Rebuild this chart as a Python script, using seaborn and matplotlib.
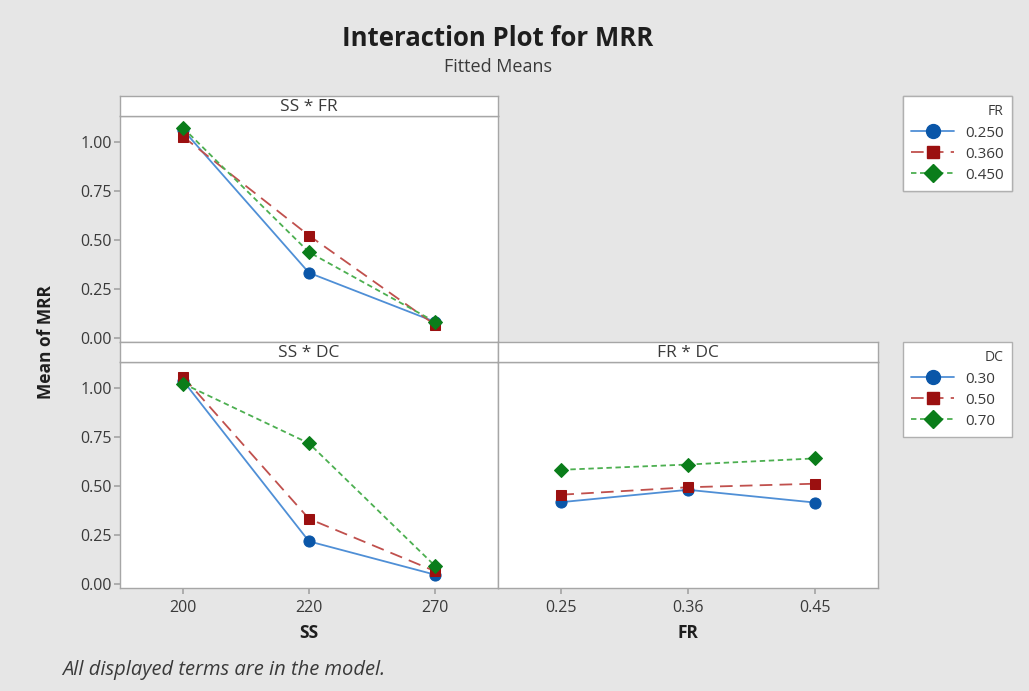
import matplotlib
matplotlib.use("Agg")
import matplotlib.pyplot as plt
import seaborn as sns
from matplotlib.lines import Line2D

# factor levels
ss_levels = ["200", "220", "270"]
fr_levels = ["0.25", "0.36", "0.45"]
fr_legend = ["0.250", "0.360", "0.450"]
dc_legend = ["0.30", "0.50", "0.70"]

# fitted means
ss_fr_250 = [1.065, 0.335, 0.085]
ss_fr_360 = [1.030, 0.525, 0.070]
ss_fr_450 = [1.075, 0.440, 0.085]

ss_dc_30 = [1.040, 0.220, 0.050]
ss_dc_50 = [1.060, 0.335, 0.068]
ss_dc_70 = [1.025, 0.720, 0.095]

fr_dc_30 = [0.420, 0.483, 0.418]
fr_dc_50 = [0.458, 0.496, 0.514]
fr_dc_70 = [0.585, 0.612, 0.643]

yticks = [0.0, 0.25, 0.5, 0.75, 1.0]

sns.set_theme(style="white")
plt.rcParams["font.family"] = ["Open Sans", "DejaVu Sans"]

line_cols = ["#4f8fd6", "#c0504d", "#4caf50"]
mark_cols = ["#0a56a8", "#9b1010", "#0a7d1a"]
markers = ["o", "s", "D"]
msizes = [8, 6.5, 7]
styles = ["-", (0, (7, 4)), (0, (3, 2))]
gray = "#a6a6a6"
txt = "#3a3a3a"
dark = "#1e1e1e"

fig = plt.figure(figsize=(10.29, 6.91), dpi=100)
fig.patch.set_facecolor("#e6e6e6")

W, H = 1029, 691


def px_axes(x0, y0, x1, y1):
    return fig.add_axes([x0 / W, 1 - y1 / H, (x1 - x0) / W, (y1 - y0) / H])


def strip(x0, y0, x1, y1, label):
    s = px_axes(x0, y0, x1, y1)
    s.set_facecolor("white")
    s.set_xticks([])
    s.set_yticks([])
    for sp in s.spines.values():
        sp.set_color(gray)
        sp.set_linewidth(1)
    s.text(0.5, 0.45, label, ha="center", va="center", fontsize=12.5, color=txt,
           transform=s.transAxes)


def panel(ax, xs, series, show_y, show_x):
    for i, vals in enumerate(series):
        sns.lineplot(x=xs, y=vals, ax=ax, color=line_cols[i], marker=markers[i],
                     markersize=msizes[i], markerfacecolor=mark_cols[i],
                     markeredgecolor=mark_cols[i], linestyle=styles[i],
                     linewidth=1.3, sort=False)
    ax.set_facecolor("white")
    ax.set_xlim(-0.5, 2.5)
    ax.set_ylim(-0.018, 1.135)
    for sp in ax.spines.values():
        sp.set_color(gray)
        sp.set_linewidth(1)
    ax.set_yticks(yticks)
    if show_y:
        ax.set_yticklabels([f"{v:.2f}" for v in yticks])
        ax.tick_params(axis="y", left=True, length=4, color=gray, labelsize=11.5,
                       labelcolor=txt, pad=2)
    else:
        ax.tick_params(axis="y", left=False, labelleft=False)
    if show_x:
        ax.tick_params(axis="x", bottom=True, length=4, color=gray, labelsize=11.5,
                       labelcolor=txt, pad=5)
    else:
        ax.tick_params(axis="x", bottom=False, labelbottom=False)
    ax.set_xlabel("")
    ax.set_ylabel("")


ax1 = px_axes(120, 116, 498, 342)
panel(ax1, ss_levels, [ss_fr_250, ss_fr_360, ss_fr_450], True, False)
strip(120, 96, 498, 116, "SS * FR")

ax2 = px_axes(120, 362, 498, 588)
panel(ax2, ss_levels, [ss_dc_30, ss_dc_50, ss_dc_70], True, True)
strip(120, 342, 498, 362, "SS * DC")

ax3 = px_axes(498, 362, 878, 588)
panel(ax3, fr_levels, [fr_dc_30, fr_dc_50, fr_dc_70], False, True)
strip(498, 342, 878, 362, "FR * DC")


def legend_for(title, labels, top):
    handles = [Line2D([0], [0], color=line_cols[i], linestyle=styles[i], linewidth=1.3,
                      marker=markers[i], markersize=msizes[i] * 1.25,
                      markerfacecolor=mark_cols[i], markeredgecolor=mark_cols[i])
               for i in range(3)]
    leg = fig.legend(handles, labels, title=title, loc="upper left",
                     bbox_to_anchor=(903 / W, 1 - (top + 96) / H, 109 / W, 96 / H),
                     mode="expand", borderaxespad=0,
                     frameon=True, fancybox=False, edgecolor="#b0b0b0",
                     facecolor="white", framealpha=1, fontsize=11, title_fontsize=10,
                     handlelength=2.8, handletextpad=0.7, labelspacing=0.4,
                     borderpad=0.55, alignment="right")
    for t in leg.get_texts():
        t.set_color(txt)
    leg.get_title().set_color(txt)
    leg.get_frame().set_linewidth(1)
    return leg


fig.add_artist(legend_for("FR", fr_legend, 96))
legend_for("DC", dc_legend, 342)

fig.text(498 / W, 1 - 38 / H, "Interaction Plot for MRR", ha="center", va="center",
         fontsize=18.5, fontweight="bold", color=dark)
fig.text(498 / W, 1 - 67 / H, "Fitted Means", ha="center", va="center",
         fontsize=13, color=txt)
fig.text(46 / W, 1 - 342 / H, "Mean of MRR", ha="center", va="center", rotation=90,
         fontsize=12.5, fontweight="bold", color=dark)
fig.text(309 / W, 1 - 633 / H, "SS", ha="center", va="center", fontsize=12.5,
         fontweight="bold", color=dark)
fig.text(688 / W, 1 - 633 / H, "FR", ha="center", va="center", fontsize=12.5,
         fontweight="bold", color=dark)
fig.text(62 / W, 1 - 670 / H, "All displayed terms are in the model.", ha="left",
         va="center", fontsize=14.5, fontstyle="italic", color=txt)

fig.savefig("out.png", dpi=100, facecolor=fig.get_facecolor())
